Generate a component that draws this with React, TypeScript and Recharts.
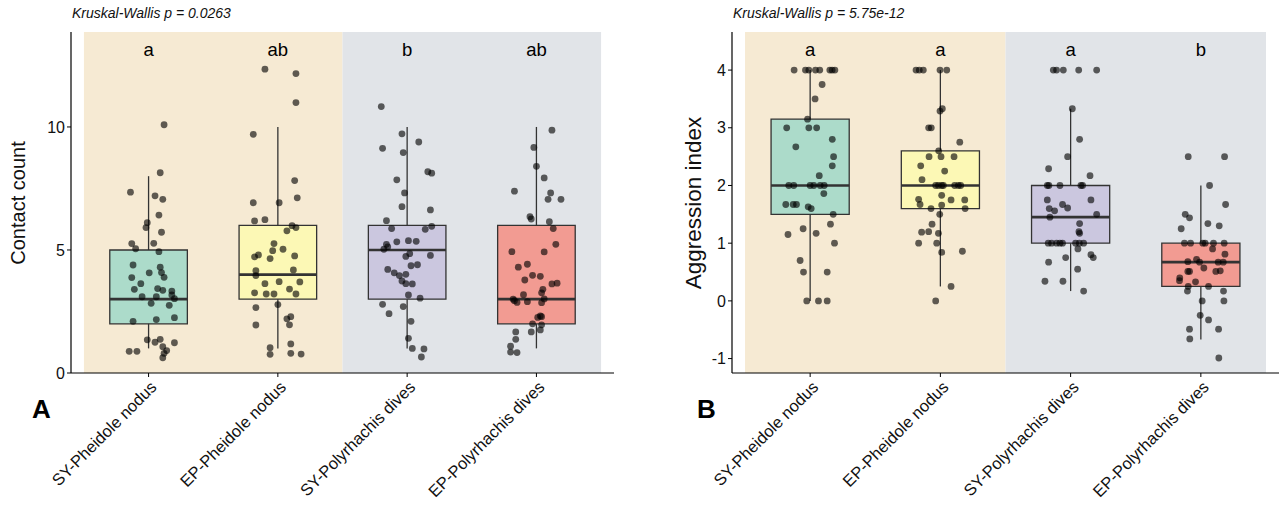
import { ComposedChart, Scatter, XAxis, YAxis, ReferenceArea, ReferenceLine } from 'recharts';

const groups = ['SY-Pheidole nodus', 'EP-Pheidole nodus', 'SY-Polyrhachis dives', 'EP-Polyrhachis dives'];
const boxFills = ['#acdbca', '#fcf8b5', '#cbc7df', '#f29b92'];
const lettersContact = ['a', 'ab', 'b', 'ab'];
const lettersAggression = ['a', 'a', 'a', 'b'];

// [lower whisker, q1, median, q3, upper whisker]
const contactBoxes = [[1, 2, 3, 5, 8], [1, 3, 4, 6, 10], [1, 3, 5, 6, 10], [1, 2, 3, 6, 10]];
const aggressionBoxes = [[0, 1.5, 2, 3.15, 4], [0.25, 1.6, 2, 2.6, 4], [0.17, 1, 1.45, 2, 3.33], [-0.67, 0.25, 0.67, 1, 2]];

// jittered points: [x offset from group centre, value]
const contactSYPheidole = [[0.12,10.09],[0.09,8.14],[-0.14,7.35],[0.05,7.2],[0.11,7.06],[0.08,6.42],[-0.01,6.11],[-0.02,5.91],[0.10,5.72],[-0.13,5.26],[-0.10,5.05],[0.04,5.27],[0.08,4.93],[-0.12,4.39],[0.09,4.30],[0.10,4.08],[0.005,4.07],[0.12,3.89],[-0.13,3.88],[-0.06,3.63],[-0.11,3.40],[0.07,3.43],[0.11,3.36],[0.18,3.33],[0.18,3.17],[-0.05,3.10],[0.06,3.10],[0.20,3.02],[0.02,2.83],[0.16,2.75],[0.06,2.17],[0.20,2.25],[-0.12,2.10],[-0.01,1.35],[0.09,1.37],[0.05,1.25],[0.20,1.23],[0.11,1.07],[0.14,0.91],[-0.15,0.88],[-0.09,0.88],[0.12,0.80],[0.11,0.62]];
const contactEPPheidole = [[-0.10,12.35],[0.14,12.17],[0.14,10.99],[-0.19,9.70],[0.13,7.82],[0.15,7.12],[-0.19,6.92],[0.01,6.92],[-0.18,6.18],[-0.10,6.23],[0.11,5.99],[0.14,5.91],[0.07,5.78],[-0.03,5.26],[-0.04,4.97],[0.04,5.03],[-0.15,4.80],[-0.18,4.72],[-0.06,4.65],[0.13,4.76],[-0.17,4.16],[0.12,4.19],[-0.17,3.96],[0.17,3.70],[0.01,3.71],[-0.10,3.63],[0.09,3.41],[-0.18,3.26],[-0.09,3.21],[-0.03,3.21],[0.14,3.21],[0,2.78],[-0.17,2.66],[0.07,2.20],[0.10,2.29],[0.09,1.96],[-0.17,1.95],[-0.06,1.03],[0.10,1.18],[-0.06,0.76],[0.10,0.80],[0.18,0.77]];
const contactSYPolyrhachis = [[-0.20,10.83],[-0.04,9.72],[-0.19,9.13],[0.09,9.39],[-0.03,8.96],[0.16,8.18],[0.19,8.12],[-0.08,7.85],[-0.02,7.32],[-0.04,6.76],[0.18,6.63],[-0.16,6.19],[-0.12,5.87],[0.19,5.96],[0.14,5.84],[0.01,5.38],[0.07,5.35],[-0.08,5.33],[-0.16,5.23],[-0.15,5.13],[-0.18,5.03],[0.02,4.85],[-0.01,4.74],[0.18,4.78],[0.08,4.40],[0.03,4.36],[-0.15,4.21],[-0.10,4.07],[-0.01,4.01],[-0.06,3.96],[-0.04,3.74],[-0.01,3.63],[0.04,3.62],[0.01,3.17],[0.10,3.04],[-0.19,2.79],[-0.03,2.70],[-0.14,2.41],[0.03,2.10],[0.01,1.41],[0.04,1.00],[0.13,0.98],[0.11,0.65]];
const contactEPPolyrhachis = [[0.12,9.87],[-0.02,9.17],[0,8.40],[0.06,7.93],[-0.17,7.39],[0.11,7.32],[0.09,7.06],[0.19,7.06],[-0.05,6.35],[-0.04,6.26],[0.10,6.15],[0.13,5.87],[0.15,5.23],[-0.19,4.93],[0.06,4.92],[-0.07,4.42],[-0.14,4.30],[-0.03,3.97],[0.03,3.93],[-0.09,3.78],[0.12,3.62],[0.16,3.65],[0.05,3.40],[0.04,3.26],[-0.10,3.18],[-0.18,3.00],[-0.17,2.94],[-0.15,2.87],[-0.07,2.90],[0.06,3.01],[0.04,2.86],[0.03,2.32],[0.04,2.29],[0.01,2.26],[-0.03,2.00],[0.04,1.96],[0.03,1.75],[-0.04,1.67],[-0.16,1.67],[-0.16,1.37],[-0.20,1.09],[-0.20,0.85],[-0.15,0.83]];

const aggrSYPheidole = [[-0.123,4],[-0.036,4],[-0.01,4],[0.041,4],[0.074,4],[0.151,4],[0.169,4],[0.19,4],[0.092,3.75],[0.038,3.5],[-0.02,3.15],[-0.18,3],[-0.01,3],[0.05,3],[0.17,2.8],[-0.11,2.67],[0.18,2.5],[0.17,2.34],[0.07,2.17],[-0.164,2],[-0.126,2],[0,2],[0.028,2],[0.077,2],[0.108,2],[0.105,1.86],[-0.187,1.67],[-0.13,1.67],[-0.105,1.67],[-0.015,1.63],[0.008,1.6],[0.177,1.5],[0.156,1.33],[-0.17,1.15],[-0.054,1.25],[0.046,1.17],[0.187,1],[-0.077,0.7],[-0.051,0.5],[0.131,0.5],[-0.026,0],[0.064,0],[0.131,0]];
const aggrEPPheidole = [[-0.187,4],[-0.162,4],[-0.131,4],[-0.003,4],[0.049,4],[0.015,3.33],[-0.003,3.29],[-0.09,3],[-0.07,3],[0.149,2.75],[-0.013,2.6],[-0.087,2.5],[0.005,2.5],[0.105,2.5],[-0.151,2.34],[0.033,2.25],[-0.141,2.1],[-0.036,2],[-0.015,2],[0.01,2],[0.023,2],[0.11,2],[0.138,2],[0.156,2],[-0.167,1.76],[-0.156,1.67],[0.01,1.83],[0.082,1.75],[0.187,1.75],[-0.072,1.6],[0.01,1.66],[0.19,1.6],[-0.005,1.5],[-0.064,1.33],[-0.144,1.19],[-0.09,1.2],[-0.015,1.17],[-0.167,1],[-0.028,1],[0.01,0.84],[0.169,0.86],[0.082,0.25],[-0.036,0]];
const aggrSYPolyrhachis = [[-0.133,4],[-0.108,4],[-0.056,4],[0.062,4],[0.2,4],[0.013,3.33],[0.069,2.8],[-0.023,2.5],[-0.169,2.29],[0.149,2.17],[-0.179,2],[-0.167,2],[-0.082,2],[0.079,2],[0.092,2],[-0.179,1.75],[0.156,1.75],[-0.062,1.67],[-0.023,1.61],[-0.164,1.6],[-0.123,1.56],[0.2,1.5],[-0.159,1.45],[0.069,1.34],[0.064,1.2],[0.069,1.17],[-0.172,1],[-0.146,1],[-0.108,1],[-0.082,1],[-0.062,1],[0.038,1],[0.067,1],[0.1,1],[0.056,0.9],[0.156,0.8],[0.174,0.75],[-0.038,0.75],[-0.169,0.67],[0.054,0.55],[-0.197,0.34],[-0.059,0.34],[0.1,0.17]];
const aggrEPPolyrhachis = [[-0.097,2.5],[0.182,2.5],[0.067,2],[0.19,1.67],[-0.12,1.5],[-0.087,1.44],[0.054,1.34],[0.141,1.3],[-0.151,1.25],[-0.126,1],[-0.079,1],[0.015,1],[0.033,1],[0.097,1],[0.179,1],[0.09,0.9],[0.185,0.81],[-0.033,0.72],[-0.1,0.68],[-0.01,0.67],[0.133,0.67],[0.172,0.67],[0.023,0.57],[-0.1,0.51],[-0.087,0.51],[0.115,0.51],[0.149,0.52],[-0.162,0.4],[-0.164,0.35],[-0.041,0.33],[-0.097,0.25],[0.059,0.25],[-0.103,0.17],[0.174,0.17],[0.177,0],[0.01,0],[-0.005,-0.25],[0.059,-0.33],[-0.087,-0.49],[0.136,-0.49],[-0.085,-0.66],[0.138,-0.99]];

const FONT = '"Liberation Sans", Arial, sans-serif';

const GroupTick = (props: any) => {
  const { x, y, payload } = props;
  return (
    <g transform={`translate(${x},${y})`}>
      <text transform="rotate(-45)" textAnchor="end" dy="0.78em" fontSize={16.5} fill="#111" fontFamily={FONT}>
        {groups[payload.value - 1]}
      </text>
    </g>
  );
};

interface PanelProps {
  title: string;
  yLabel: string;
  yLabelX: number;
  yLabelSize: number;
  domain: number[];
  ticks: number[];
  boxes: number[][];
  points: number[][][];
  letters: string[];
  letterY: number;
  tag: string;
  tagX: number;
  yWidth: number;
  right: number;
  left: number;
}

function Panel(props: PanelProps) {
  const { title, yLabel, yLabelX, yLabelSize, domain, ticks, boxes, points, letters, letterY, tag, tagX, yWidth, right, left } = props;
  const pts = points.flatMap((g, i) => g.map(([dx, v]) => ({ x: i + 1 + dx, y: v })));
  const letterData = letters.map((l, i) => ({ x: i + 1, y: letterY, label: l }));

  return (
    <div style={{ position: 'absolute', left, top: 0, width: 641, height: 506 }}>
      <ComposedChart width={641} height={506} margin={{ top: 32, right, bottom: 23, left: 0 }}>
        <XAxis
          type="number"
          dataKey="x"
          domain={[0.4, 4.6]}
          ticks={[1, 2, 3, 4]}
          allowDataOverflow
          height={110}
          tickSize={4}
          tickLine={{ stroke: '#000' }}
          axisLine={{ stroke: '#000', strokeWidth: 1.2 }}
          tick={<GroupTick />}
        />
        <YAxis
          type="number"
          dataKey="y"
          domain={domain}
          ticks={ticks}
          allowDataOverflow
          width={yWidth}
          tickSize={4}
          tickLine={{ stroke: '#000' }}
          axisLine={{ stroke: '#000', strokeWidth: 1.2 }}
          tick={{ fill: '#111', fontSize: 16, fontFamily: FONT }}
        />
        <ReferenceArea x1={0.5} x2={2.5} fill="#f6ead3" fillOpacity={1} stroke="none" />
        <ReferenceArea x1={2.5} x2={4.5} fill="#e1e4e8" fillOpacity={1} stroke="none" />
        {boxes.map((b, i) => (
          <ReferenceLine key={`lo${i}`} segment={[{ x: i + 1, y: b[0] }, { x: i + 1, y: b[1] }]} stroke="#333" strokeWidth={1.3} />
        ))}
        {boxes.map((b, i) => (
          <ReferenceLine key={`hi${i}`} segment={[{ x: i + 1, y: b[3] }, { x: i + 1, y: b[4] }]} stroke="#333" strokeWidth={1.3} />
        ))}
        {boxes.map((b, i) => (
          <ReferenceArea key={`box${i}`} x1={i + 0.7} x2={i + 1.3} y1={b[1]} y2={b[3]} fill={boxFills[i]} fillOpacity={1} stroke="#333" strokeWidth={1.3} />
        ))}
        {boxes.map((b, i) => (
          <ReferenceLine key={`med${i}`} segment={[{ x: i + 0.7, y: b[2] }, { x: i + 1.3, y: b[2] }]} stroke="#333" strokeWidth={2.7} />
        ))}
        <Scatter
          data={pts}
          isAnimationActive={false}
          shape={(p: any) => <circle cx={p.cx} cy={p.cy} r={3.4} fill="#000" fillOpacity={0.62} />}
        />
        <Scatter
          data={letterData}
          isAnimationActive={false}
          shape={(p: any) => (
            <text x={p.cx} y={p.cy + 6} textAnchor="middle" fontSize={18.5} fill="#000" fontFamily={FONT}>
              {p.payload.label}
            </text>
          )}
        />
      </ComposedChart>
      <div style={{ position: 'absolute', left: yWidth + 1, top: 5, fontSize: 14, fontStyle: 'italic', fontFamily: FONT, color: '#111', whiteSpace: 'nowrap' }}>
        {title}
      </div>
      <div
        style={{
          position: 'absolute', left: yLabelX, top: 203, fontSize: yLabelSize, fontFamily: FONT, color: '#111',
          whiteSpace: 'nowrap', transform: 'translate(-50%, -50%) rotate(-90deg)',
        }}
      >
        {yLabel}
      </div>
      <div style={{ position: 'absolute', left: tagX, top: 394, fontSize: 26, fontWeight: 'bold', fontFamily: FONT, color: '#000' }}>
        {tag}
      </div>
    </div>
  );
}

export default function App() {
  return (
    <div style={{ position: 'absolute', left: 0, top: 0, width: 1282, height: 506, background: '#fff' }}>
      <Panel
        title="Kruskal-Wallis p = 0.0263"
        yLabel="Contact count"
        yLabelX={18}
        yLabelSize={20}
        domain={[0, 13.86]}
        ticks={[0, 5, 10]}
        boxes={contactBoxes}
        points={[contactSYPheidole, contactEPPheidole, contactSYPolyrhachis, contactEPPolyrhachis]}
        letters={lettersContact}
        letterY={13.13}
        tag="A"
        tagX={32}
        yWidth={71}
        right={27}
        left={0}
      />
      <Panel
        title="Kruskal-Wallis p = 5.75e-12"
        yLabel="Aggression index"
        yLabelX={53}
        yLabelSize={22.5}
        domain={[-1.25, 4.66]}
        ticks={[-1, 0, 1, 2, 3, 4]}
        boxes={aggressionBoxes}
        points={[aggrSYPheidole, aggrEPPheidole, aggrSYPolyrhachis, aggrEPPolyrhachis]}
        letters={lettersAggression}
        letterY={4.35}
        tag="B"
        tagX={56}
        yWidth={91}
        right={3}
        left={641}
      />
    </div>
  );
}
